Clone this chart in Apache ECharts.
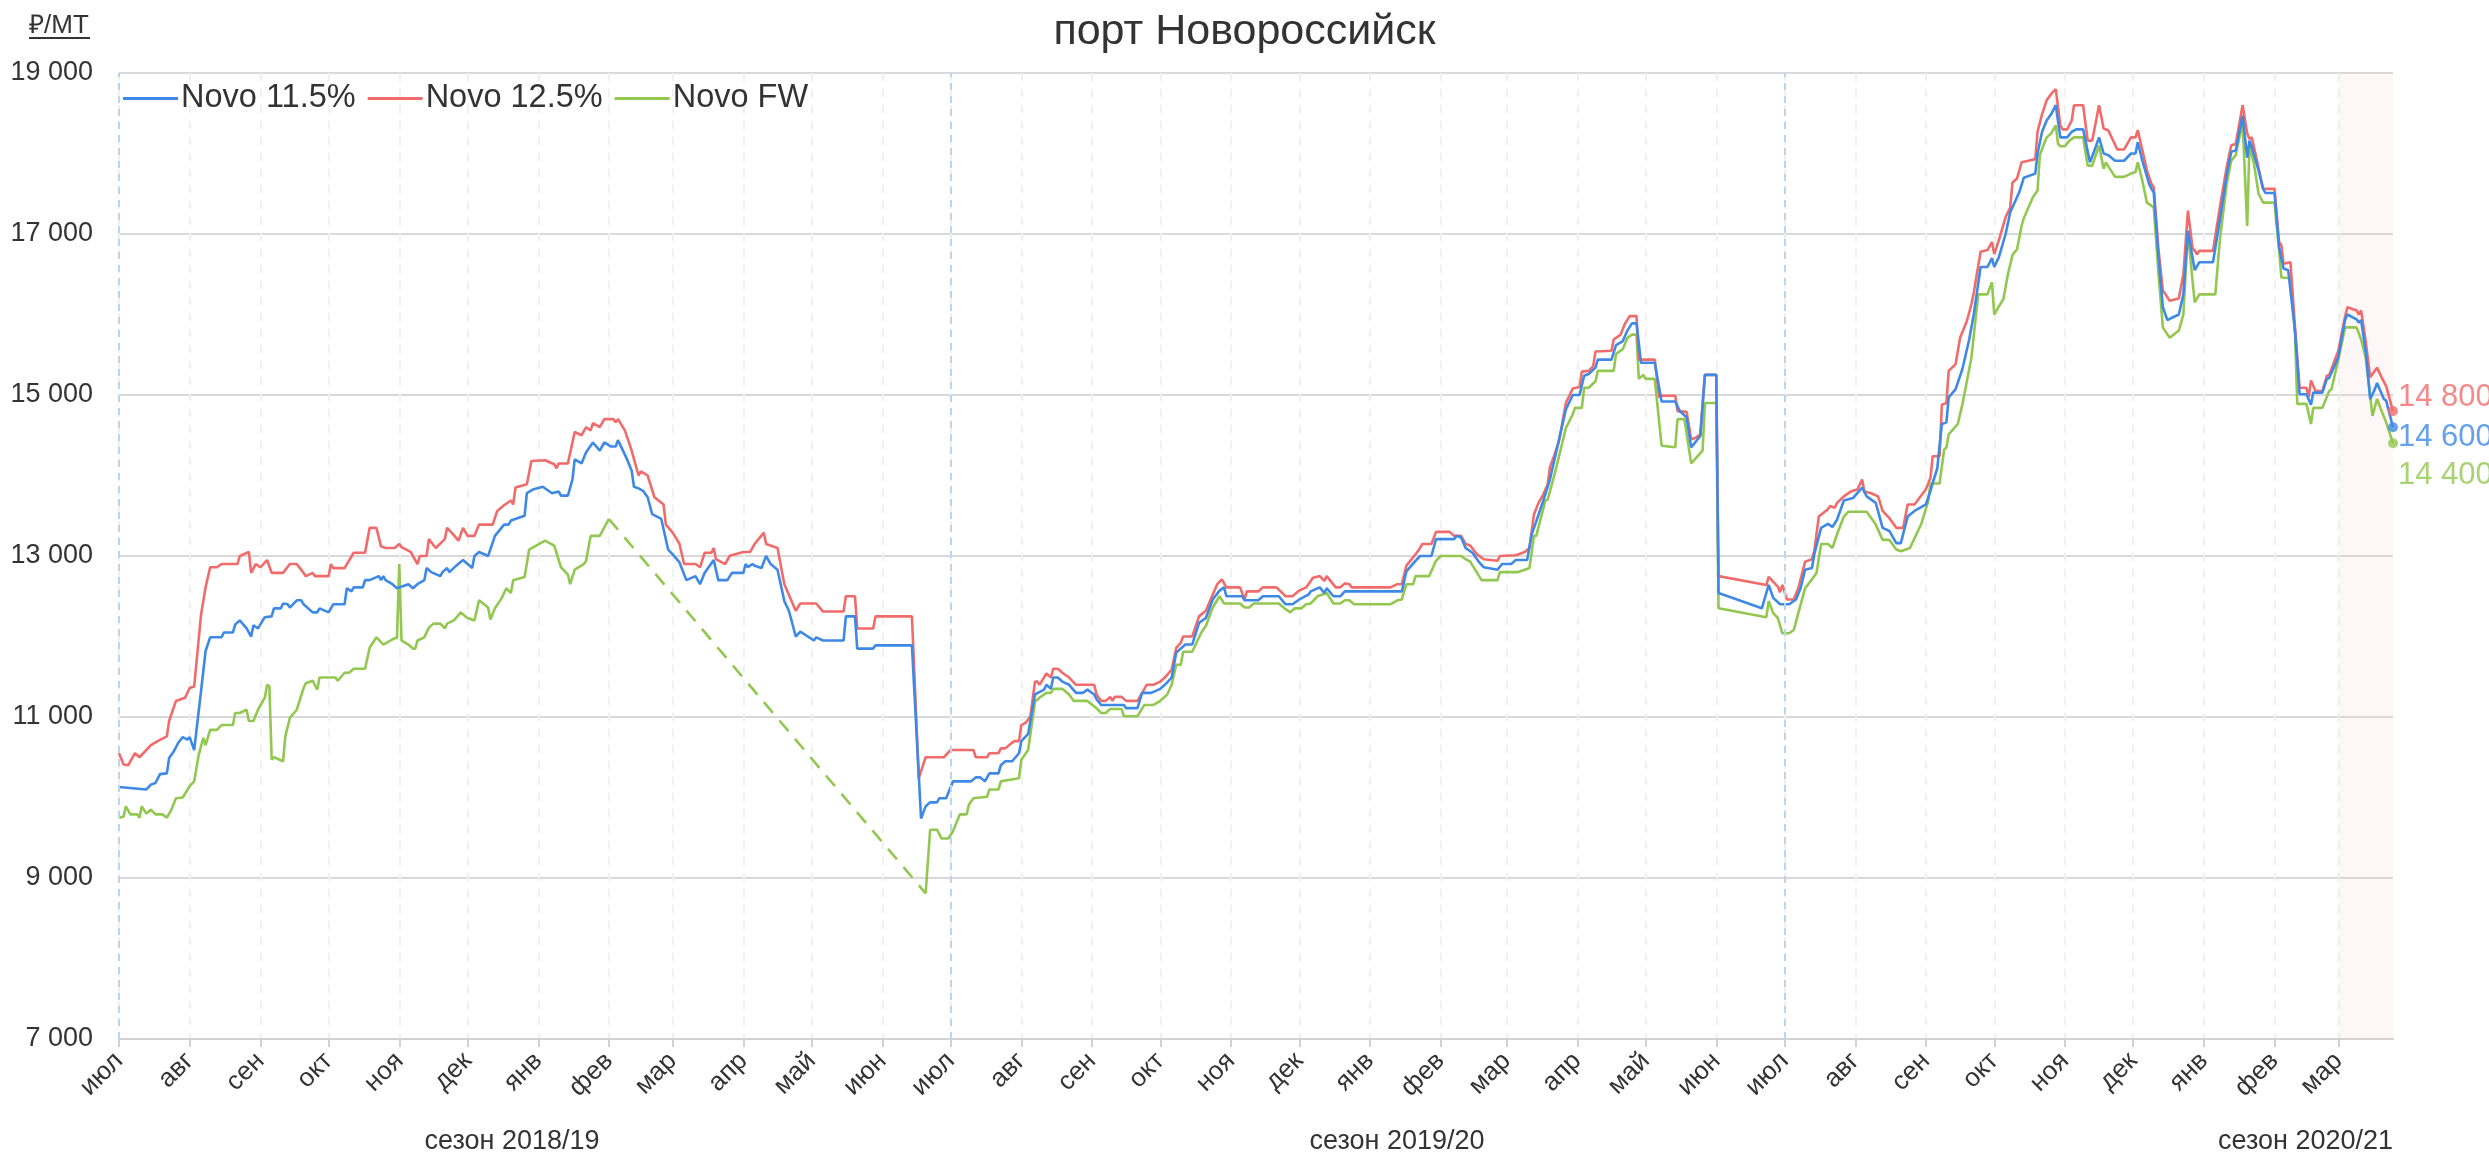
<!DOCTYPE html>
<html><head><meta charset="utf-8">
<script src="https://cdn.jsdelivr.net/npm/echarts@6/dist/echarts.min.js"></script>
<style>html,body{margin:0;padding:0;background:#fff}#c{width:2489px;height:1155px}</style>
</head><body><div id="c"></div>
<script>
const monthLabels = ['янв','фев','мар','апр','май','июн','июл','авг','сен','окт','ноя','дек'];
const seasonLabels = ['сезон 2018/19','сезон 2019/20','сезон 2020/21'];
const seasonStarts = ['2018-07-01','2019-07-01','2020-07-01'];
const highlightRange = ['2021-03-01','2021-03-25'];
const startDate = '2018-07-01', endDate = '2021-03-25';

const novo115 = [
['2018-07-01',10130],['2018-07-13',10100],['2018-07-15',10160],['2018-07-17',10180],['2018-07-19',10290],['2018-07-22',10300],['2018-07-23',10490],['2018-07-25',10570],['2018-07-27',10680],['2018-07-29',10750],['2018-07-31',10720],['2018-08-01',10750],['2018-08-03',10590],['2018-08-06',11320],['2018-08-08',11820],['2018-08-10',11990],['2018-08-15',11990],['2018-08-16',12050],['2018-08-20',12050],['2018-08-21',12150],['2018-08-23',12200],['2018-08-26',12100],['2018-08-28',12000],['2018-08-29',12140],['2018-08-31',12100],
['2018-09-03',12240],['2018-09-06',12250],['2018-09-07',12350],['2018-09-10',12350],['2018-09-11',12410],['2018-09-13',12400],['2018-09-14',12360],['2018-09-17',12450],['2018-09-19',12450],['2018-09-20',12400],['2018-09-24',12300],['2018-09-26',12300],['2018-09-27',12350],['2018-10-01',12300],['2018-10-03',12400],['2018-10-08',12400],['2018-10-09',12600],['2018-10-11',12560],['2018-10-12',12610],['2018-10-16',12610],['2018-10-17',12700],['2018-10-19',12700],['2018-10-23',12750],['2018-10-24',12700],['2018-10-25',12750],['2018-10-26',12700],['2018-10-29',12650],['2018-10-31',12600],
['2018-11-05',12650],['2018-11-07',12600],['2018-11-09',12650],['2018-11-12',12700],['2018-11-13',12850],['2018-11-15',12800],['2018-11-19',12750],['2018-11-20',12800],['2018-11-22',12850],['2018-11-23',12800],['2018-11-26',12880],['2018-11-29',12950],['2018-12-03',12850],['2018-12-04',13000],['2018-12-06',13050],['2018-12-10',13000],['2018-12-13',13250],['2018-12-17',13390],['2018-12-19',13390],['2018-12-20',13440],['2018-12-26',13500],['2018-12-27',13780],['2018-12-30',13830],
['2019-01-03',13860],['2019-01-07',13780],['2019-01-10',13800],['2019-01-11',13750],['2019-01-14',13750],['2019-01-16',13950],['2019-01-17',14200],['2019-01-20',14150],['2019-01-22',14290],['2019-01-25',14410],['2019-01-28',14310],['2019-01-30',14410],['2019-02-02',14360],['2019-02-04',14360],['2019-02-05',14440],['2019-02-09',14200],['2019-02-11',14060],['2019-02-12',13860],['2019-02-14',13840],['2019-02-16',13810],['2019-02-18',13730],['2019-02-20',13520],['2019-02-24',13460],['2019-02-27',13080],
['2019-03-01',13020],['2019-03-04',12920],['2019-03-07',12700],['2019-03-11',12750],['2019-03-13',12650],['2019-03-15',12790],['2019-03-19',12950],['2019-03-21',12700],['2019-03-25',12700],['2019-03-27',12790],['2019-04-01',12790],['2019-04-02',12900],['2019-04-03',12860],['2019-04-05',12900],['2019-04-06',12880],['2019-04-09',12850],['2019-04-11',13000],['2019-04-13',12900],['2019-04-16',12830],['2019-04-19',12440],['2019-04-21',12320],['2019-04-24',12000],['2019-04-26',12060],
['2019-05-02',11950],['2019-05-03',11990],['2019-05-06',11950],['2019-05-15',11950],['2019-05-16',12250],['2019-05-20',12250],['2019-05-21',11850],['2019-05-28',11850],['2019-05-29',11890],['2019-06-14',11890],['2019-06-18',9740],['2019-06-20',9890],['2019-06-22',9940],['2019-06-25',9940],['2019-06-26',9990],['2019-06-29',9990],
['2019-07-02',10200],['2019-07-10',10200],['2019-07-12',10250],['2019-07-14',10250],['2019-07-16',10200],['2019-07-18',10300],['2019-07-22',10300],['2019-07-23',10400],['2019-07-25',10450],['2019-07-28',10450],['2019-07-31',10550],['2019-08-01',10700],['2019-08-04',10790],['2019-08-07',11280],['2019-08-11',11340],['2019-08-12',11400],['2019-08-14',11350],['2019-08-15',11490],['2019-08-17',11490],['2019-08-19',11440],['2019-08-22',11400],['2019-08-25',11300],['2019-08-28',11300],['2019-08-30',11340],
['2019-09-02',11280],['2019-09-03',11220],['2019-09-05',11150],['2019-09-15',11150],['2019-09-16',11110],['2019-09-21',11110],['2019-09-23',11300],['2019-09-27',11300],['2019-10-01',11350],['2019-10-03',11400],['2019-10-06',11490],['2019-10-08',11800],['2019-10-12',11900],['2019-10-15',11900],['2019-10-18',12170],['2019-10-21',12230],['2019-10-24',12460],['2019-10-27',12570],['2019-10-29',12610],['2019-10-30',12500],
['2019-11-06',12500],['2019-11-07',12450],['2019-11-13',12450],['2019-11-15',12500],['2019-11-22',12500],['2019-11-25',12400],['2019-11-28',12400],['2019-12-01',12460],['2019-12-05',12520],['2019-12-06',12560],['2019-12-10',12610],['2019-12-12',12540],['2019-12-13',12600],['2019-12-16',12500],['2019-12-19',12500],['2019-12-21',12560],
['2020-01-15',12560],['2020-01-17',12810],['2020-01-21',12940],['2020-01-23',13000],['2020-01-28',13000],['2020-01-30',13210],['2020-02-07',13210],['2020-02-08',13250],['2020-02-10',13230],['2020-02-12',13100],['2020-02-15',13040],['2020-02-18',12920],['2020-02-20',12860],['2020-02-26',12830],['2020-02-28',12900],
['2020-03-03',12900],['2020-03-05',12950],['2020-03-10',12950],['2020-03-12',13270],['2020-03-14',13430],['2020-03-17',13680],['2020-03-20',13950],['2020-03-27',14820],['2020-03-30',15000],['2020-04-02',15000],['2020-04-04',15240],['2020-04-06',15260],['2020-04-09',15340],['2020-04-10',15440],['2020-04-16',15440],['2020-04-18',15620],['2020-04-21',15670],['2020-04-23',15800],['2020-04-25',15890],['2020-04-27',15890],['2020-04-29',15400],
['2020-05-05',15400],['2020-05-08',14920],['2020-05-14',14920],['2020-05-16',14800],['2020-05-19',14720],['2020-05-21',14350],['2020-05-25',14490],['2020-05-27',15250],['2020-06-01',15250],['2020-06-02',12540],['2020-06-21',12350],['2020-06-24',12640],['2020-06-26',12480],['2020-06-29',12400],
['2020-07-03',12400],['2020-07-06',12460],['2020-07-08',12600],['2020-07-10',12830],['2020-07-13',12850],['2020-07-14',13020],['2020-07-17',13350],['2020-07-20',13400],['2020-07-22',13360],['2020-07-24',13450],['2020-07-27',13690],['2020-07-31',13720],['2020-08-04',13850],['2020-08-06',13740],['2020-08-10',13660],['2020-08-13',13350],['2020-08-16',13310],['2020-08-19',13160],['2020-08-21',13160],['2020-08-24',13490],['2020-08-27',13560],
['2020-09-01',13640],['2020-09-03',13810],['2020-09-04',13910],['2020-09-06',14090],['2020-09-08',14640],['2020-09-10',14660],['2020-09-11',14970],['2020-09-14',15070],['2020-09-17',15320],['2020-09-20',15690],['2020-09-22',16000],['2020-09-25',16590],['2020-09-28',16590],['2020-09-30',16700],
['2020-10-01',16590],['2020-10-03',16710],['2020-10-06',17000],['2020-10-08',17270],['2020-10-12',17520],['2020-10-14',17700],['2020-10-19',17750],['2020-10-20',18000],['2020-10-22',18270],['2020-10-24',18410],['2020-10-26',18490],['2020-10-28',18600],['2020-10-30',18200],
['2020-11-02',18200],['2020-11-04',18270],['2020-11-06',18300],['2020-11-09',18300],['2020-11-12',17890],['2020-11-14',18040],['2020-11-16',18200],['2020-11-18',18000],['2020-11-20',17980],['2020-11-23',17910],['2020-11-27',17910],['2020-11-30',18000],
['2020-12-02',18000],['2020-12-03',18140],['2020-12-05',17910],['2020-12-08',17620],['2020-12-09',17560],['2020-12-10',17520],['2020-12-12',16750],['2020-12-14',16090],['2020-12-16',15930],['2020-12-18',15960],['2020-12-21',16000],['2020-12-23',16250],['2020-12-25',17040],['2020-12-27',16710],['2020-12-28',16550],['2020-12-30',16650],
['2021-01-05',16650],['2021-01-08',17170],['2021-01-11',17730],['2021-01-13',18020],['2021-01-15',18040],['2021-01-18',18470],['2021-01-20',17950],['2021-01-21',18160],['2021-01-22',18080],['2021-01-25',17790],['2021-01-27',17560],['2021-01-28',17510],
['2021-02-01',17510],['2021-02-03',16830],['2021-02-05',16570],['2021-02-07',16550],['2021-02-10',15800],['2021-02-12',15010],['2021-02-15',15010],['2021-02-17',14880],['2021-02-18',15030],['2021-02-22',15030],['2021-02-24',15200],['2021-02-25',15210],
['2021-03-01',15470],['2021-03-04',15940],['2021-03-05',16000],['2021-03-09',15940],['2021-03-10',15900],['2021-03-11',15930],['2021-03-13',15550],['2021-03-15',14950],['2021-03-17',15070],['2021-03-18',15150],['2021-03-21',14950],['2021-03-22',14930],['2021-03-25',14600]
];

const novo125 = [
['2018-07-01',10550],['2018-07-03',10410],['2018-07-05',10400],['2018-07-08',10550],['2018-07-10',10500],['2018-07-15',10650],['2018-07-18',10700],['2018-07-22',10760],['2018-07-23',10950],['2018-07-26',11200],['2018-07-30',11240],['2018-08-01',11360],['2018-08-03',11380],['2018-08-06',12270],['2018-08-08',12610],['2018-08-10',12860],['2018-08-13',12860],['2018-08-15',12900],['2018-08-22',12900],['2018-08-23',13000],['2018-08-27',13050],['2018-08-28',12790],['2018-08-30',12900],
['2018-09-01',12860],['2018-09-04',12950],['2018-09-06',12790],['2018-09-11',12790],['2018-09-14',12900],['2018-09-17',12900],['2018-09-20',12790],['2018-09-21',12750],['2018-09-24',12790],['2018-09-25',12750],['2018-10-01',12750],['2018-10-02',12900],['2018-10-03',12850],['2018-10-08',12850],['2018-10-12',13040],['2018-10-17',13040],['2018-10-19',13350],['2018-10-22',13350],['2018-10-24',13120],['2018-10-26',13100],['2018-10-30',13100],
['2018-11-01',13150],['2018-11-02',13110],['2018-11-06',13050],['2018-11-09',12900],['2018-11-10',13000],['2018-11-13',13000],['2018-11-14',13210],['2018-11-17',13100],['2018-11-21',13210],['2018-11-22',13350],['2018-11-24',13290],['2018-11-27',13190],['2018-11-29',13350],['2018-12-01',13250],['2018-12-04',13250],['2018-12-06',13390],['2018-12-12',13390],['2018-12-14',13560],['2018-12-17',13630],['2018-12-20',13690],['2018-12-21',13640],['2018-12-22',13850],['2018-12-27',13890],['2018-12-29',14180],
['2019-01-04',14190],['2019-01-08',14140],['2019-01-09',14090],['2019-01-10',14150],['2019-01-14',14150],['2019-01-17',14540],['2019-01-20',14500],['2019-01-22',14600],['2019-01-24',14560],['2019-01-25',14650],['2019-01-28',14600],['2019-01-30',14700],['2019-02-03',14700],['2019-02-04',14660],['2019-02-05',14700],['2019-02-08',14560],['2019-02-11',14310],['2019-02-14',14000],['2019-02-15',14050],['2019-02-18',14000],['2019-02-21',13730],['2019-02-25',13640],['2019-02-26',13390],
['2019-03-01',13290],['2019-03-04',13150],['2019-03-06',12900],['2019-03-11',12900],['2019-03-13',12860],['2019-03-15',13040],['2019-03-18',13040],['2019-03-19',13100],['2019-03-20',12960],['2019-03-24',12900],['2019-03-26',13000],['2019-03-28',13020],['2019-04-01',13050],['2019-04-04',13050],['2019-04-06',13150],['2019-04-10',13290],['2019-04-11',13150],['2019-04-16',13100],['2019-04-19',12650],['2019-04-24',12320],['2019-04-26',12410],
['2019-05-03',12410],['2019-05-06',12310],['2019-05-15',12310],['2019-05-16',12500],['2019-05-20',12500],['2019-05-21',12100],['2019-05-28',12100],['2019-05-29',12250],['2019-06-14',12250],['2019-06-17',10240],['2019-06-20',10500],['2019-06-28',10500],
['2019-07-01',10590],['2019-07-11',10590],['2019-07-12',10500],['2019-07-17',10500],['2019-07-18',10550],['2019-07-22',10550],['2019-07-23',10610],['2019-07-25',10610],['2019-07-27',10660],['2019-07-29',10700],['2019-07-31',10700],['2019-08-01',10900],['2019-08-03',10930],['2019-08-05',11010],['2019-08-07',11440],['2019-08-08',11440],['2019-08-09',11400],['2019-08-12',11540],['2019-08-14',11490],['2019-08-15',11600],['2019-08-17',11600],['2019-08-19',11550],['2019-08-22',11490],['2019-08-25',11400],
['2019-09-02',11400],['2019-09-03',11280],['2019-09-05',11200],['2019-09-07',11200],['2019-09-09',11250],['2019-09-10',11200],['2019-09-11',11250],['2019-09-14',11250],['2019-09-16',11200],['2019-09-21',11200],['2019-09-23',11300],['2019-09-25',11400],['2019-09-28',11400],['2019-10-01',11440],['2019-10-03',11490],['2019-10-06',11590],['2019-10-08',11860],['2019-10-10',11920],['2019-10-11',12000],['2019-10-15',12000],['2019-10-18',12250],['2019-10-21',12320],['2019-10-24',12520],['2019-10-26',12650],['2019-10-28',12710],['2019-10-30',12610],
['2019-11-05',12610],['2019-11-07',12460],['2019-11-08',12560],['2019-11-13',12560],['2019-11-15',12610],['2019-11-21',12610],['2019-11-25',12500],['2019-11-28',12500],['2019-12-01',12570],['2019-12-04',12610],['2019-12-07',12730],['2019-12-10',12750],['2019-12-12',12690],['2019-12-13',12750],['2019-12-17',12610],['2019-12-19',12610],['2019-12-21',12660],['2019-12-23',12650],['2019-12-24',12610],
['2020-01-10',12610],['2020-01-13',12650],['2020-01-15',12650],['2020-01-17',12880],['2020-01-21',13020],['2020-01-23',13100],['2020-01-24',13150],['2020-01-28',13150],['2020-01-30',13300],['2020-02-05',13300],['2020-02-07',13250],['2020-02-10',13250],['2020-02-12',13150],['2020-02-14',13130],['2020-02-17',13020],['2020-02-20',12960],['2020-02-26',12940],['2020-02-27',13000],
['2020-03-05',13010],['2020-03-09',13050],['2020-03-11',13100],['2020-03-13',13520],['2020-03-15',13660],['2020-03-17',13760],['2020-03-19',13890],['2020-03-20',14100],['2020-03-22',14260],['2020-03-24',14430],['2020-03-27',14900],['2020-03-30',15080],['2020-04-02',15100],['2020-04-03',15290],['2020-04-06',15300],['2020-04-08',15360],['2020-04-09',15540],['2020-04-16',15550],['2020-04-17',15690],['2020-04-20',15750],['2020-04-22',15890],['2020-04-24',15980],['2020-04-27',15980],['2020-04-28',15440],
['2020-05-05',15440],['2020-05-07',14970],['2020-05-08',14990],['2020-05-14',14990],['2020-05-15',14800],['2020-05-19',14790],['2020-05-21',14450],['2020-05-23',14470],['2020-05-25',14510],['2020-05-27',15250],['2020-06-01',15250],['2020-06-02',12750],['2020-06-23',12640],['2020-06-24',12740],['2020-06-28',12620],['2020-06-29',12550],['2020-06-30',12640],
['2020-07-02',12460],['2020-07-05',12460],['2020-07-07',12600],['2020-07-10',12930],['2020-07-13',12960],['2020-07-14',13060],['2020-07-16',13490],['2020-07-20',13580],['2020-07-21',13620],['2020-07-23',13600],['2020-07-24',13660],['2020-07-27',13740],['2020-07-30',13800],['2020-08-02',13830],['2020-08-04',13950],['2020-08-05',13800],['2020-08-08',13780],['2020-08-11',13740],['2020-08-13',13560],['2020-08-16',13470],['2020-08-19',13350],['2020-08-22',13350],['2020-08-24',13640],['2020-08-27',13640],
['2020-09-01',13830],['2020-09-03',13970],['2020-09-04',14240],['2020-09-07',14240],['2020-09-08',14880],['2020-09-10',14900],['2020-09-11',15300],['2020-09-14',15380],['2020-09-16',15710],['2020-09-19',15920],['2020-09-21',16130],['2020-09-22',16270],['2020-09-25',16780],['2020-09-28',16800],['2020-09-30',16900],
['2020-10-01',16750],['2020-10-03',16920],['2020-10-06',17210],['2020-10-08',17330],['2020-10-09',17640],['2020-10-11',17690],['2020-10-13',17890],['2020-10-16',17910],['2020-10-19',17930],['2020-10-20',18270],['2020-10-22',18490],['2020-10-24',18660],['2020-10-26',18740],['2020-10-28',18800],['2020-10-30',18350],['2020-10-31',18300],
['2020-11-02',18300],['2020-11-04',18410],['2020-11-05',18600],['2020-11-09',18600],['2020-11-11',18160],['2020-11-13',18160],['2020-11-16',18600],['2020-11-18',18310],['2020-11-20',18290],['2020-11-24',18050],['2020-11-27',18050],['2020-11-30',18200],
['2020-12-02',18200],['2020-12-03',18290],['2020-12-05',18040],['2020-12-07',17790],['2020-12-09',17620],['2020-12-10',17580],['2020-12-12',16830],['2020-12-14',16300],['2020-12-17',16170],['2020-12-21',16200],['2020-12-23',16500],['2020-12-25',17290],['2020-12-27',16830],['2020-12-29',16750],['2020-12-30',16790],
['2021-01-05',16790],['2021-01-08',17330],['2021-01-11',17830],['2021-01-13',18100],['2021-01-15',18120],['2021-01-18',18600],['2021-01-20',18250],['2021-01-21',18180],['2021-01-22',18200],['2021-01-24',17950],['2021-01-26',17690],['2021-01-27',17560],
['2021-02-01',17560],['2021-02-03',16900],['2021-02-04',16860],['2021-02-05',16630],['2021-02-08',16650],['2021-02-10',15840],['2021-02-12',15090],['2021-02-15',15090],['2021-02-16',14970],['2021-02-17',15180],['2021-02-19',15050],['2021-02-22',15050],['2021-02-24',15240],['2021-02-25',15250],
['2021-03-01',15550],['2021-03-04',15980],['2021-03-05',16090],['2021-03-09',16050],['2021-03-10',16000],['2021-03-11',16050],['2021-03-13',15670],['2021-03-15',15220],['2021-03-16',15260],['2021-03-18',15340],['2021-03-20',15220],['2021-03-22',15110],['2021-03-25',14800]
];

const novoFW = [
['2018-07-01',9750],['2018-07-03',9760],['2018-07-04',9890],['2018-07-06',9790],['2018-07-09',9790],['2018-07-10',9750],['2018-07-11',9890],['2018-07-13',9800],['2018-07-15',9850],['2018-07-17',9790],['2018-07-20',9790],['2018-07-22',9750],['2018-07-24',9850],['2018-07-26',9990],['2018-07-29',10000],['2018-08-01',10140],['2018-08-03',10200],['2018-08-05',10530],['2018-08-07',10740],['2018-08-08',10650],['2018-08-10',10840],['2018-08-13',10840],['2018-08-15',10900],['2018-08-20',10900],['2018-08-21',11050],['2018-08-23',11050],['2018-08-26',11090],['2018-08-27',10950],['2018-08-29',10950],['2018-08-31',11090],
['2018-09-03',11240],['2018-09-04',11400],['2018-09-05',11380],['2018-09-06',10470],['2018-09-07',10500],['2018-09-11',10450],['2018-09-12',10760],['2018-09-14',10990],['2018-09-17',11090],['2018-09-20',11360],['2018-09-21',11420],['2018-09-24',11450],['2018-09-26',11340],['2018-09-27',11490],['2018-10-04',11490],['2018-10-05',11450],['2018-10-08',11550],['2018-10-10',11550],['2018-10-12',11600],['2018-10-17',11600],['2018-10-19',11860],['2018-10-22',11990],['2018-10-25',11900],['2018-10-30',11980],['2018-10-31',11980],
['2018-11-01',12900],['2018-11-02',11950],['2018-11-05',11900],['2018-11-07',11850],['2018-11-08',11850],['2018-11-09',11950],['2018-11-12',11990],['2018-11-14',12110],['2018-11-16',12160],['2018-11-19',12160],['2018-11-21',12100],['2018-11-22',12160],['2018-11-25',12200],['2018-11-28',12300],['2018-11-30',12250],['2018-12-01',12230],['2018-12-04',12200],['2018-12-06',12450],['2018-12-10',12360],['2018-12-11',12210],['2018-12-13',12350],['2018-12-16',12480],['2018-12-18',12600],['2018-12-20',12540],['2018-12-21',12700],['2018-12-26',12740],['2018-12-28',13080],
['2019-01-04',13190],['2019-01-08',13130],['2019-01-11',12860],['2019-01-14',12770],['2019-01-15',12650],['2019-01-17',12830],['2019-01-21',12900],['2019-01-22',12940],['2019-01-24',13250],['2019-01-28',13250],['2019-02-01',13460],
['2019-06-20',8810],['2019-06-22',9600],['2019-06-25',9600],['2019-06-27',9490],['2019-06-30',9490],['2019-07-02',9580],['2019-07-05',9790],['2019-07-08',9790],['2019-07-09',9910],['2019-07-11',9990],['2019-07-17',10010],['2019-07-18',10100],['2019-07-22',10100],['2019-07-23',10200],['2019-07-27',10220],['2019-07-31',10240],['2019-08-01',10470],['2019-08-04',10590],['2019-08-07',11190],['2019-08-09',11240],['2019-08-12',11300],['2019-08-14',11300],['2019-08-15',11350],['2019-08-19',11350],['2019-08-22',11280],['2019-08-24',11200],['2019-08-30',11200],
['2019-09-03',11110],['2019-09-05',11050],['2019-09-07',11050],['2019-09-09',11100],['2019-09-14',11100],['2019-09-15',11010],['2019-09-21',11010],['2019-09-24',11150],['2019-09-28',11150],['2019-10-01',11200],['2019-10-04',11280],['2019-10-06',11400],['2019-10-08',11650],['2019-10-10',11650],['2019-10-11',11810],['2019-10-15',11810],['2019-10-19',12050],['2019-10-21',12130],['2019-10-24',12360],['2019-10-27',12500],['2019-10-29',12410],
['2019-11-05',12410],['2019-11-07',12360],['2019-11-09',12360],['2019-11-11',12410],['2019-11-22',12410],['2019-11-25',12340],['2019-11-27',12300],['2019-11-29',12350],['2019-12-02',12350],['2019-12-04',12400],['2019-12-06',12410],['2019-12-09',12500],['2019-12-13',12540],['2019-12-16',12410],['2019-12-19',12410],['2019-12-21',12450],['2019-12-23',12450],['2019-12-25',12400],
['2020-01-10',12400],['2020-01-13',12450],['2020-01-15',12460],['2020-01-17',12650],['2020-01-20',12650],['2020-01-21',12750],['2020-01-27',12750],['2020-01-30',12940],['2020-02-01',13000],['2020-02-10',13000],['2020-02-12',12960],['2020-02-14',12930],['2020-02-19',12700],['2020-02-26',12700],['2020-02-27',12800],
['2020-03-06',12800],['2020-03-09',12830],['2020-03-11',12850],['2020-03-13',13250],['2020-03-14',13250],['2020-03-16',13470],['2020-03-18',13690],['2020-03-19',13700],['2020-03-22',14010],['2020-03-27',14590],['2020-03-30',14760],['2020-03-31',14840],['2020-04-03',14840],['2020-04-04',15090],['2020-04-06',15090],['2020-04-09',15170],['2020-04-10',15300],['2020-04-17',15300],['2020-04-18',15510],['2020-04-21',15570],['2020-04-23',15710],['2020-04-25',15750],['2020-04-27',15750],['2020-04-28',15200],['2020-04-30',15250],
['2020-05-01',15200],['2020-05-05',15200],['2020-05-08',14370],['2020-05-14',14350],['2020-05-15',14700],['2020-05-18',14700],['2020-05-21',14150],['2020-05-26',14310],['2020-05-27',14900],['2020-06-01',14900],['2020-06-02',12350],['2020-06-23',12240],['2020-06-24',12440],['2020-06-26',12290],['2020-06-28',12230],['2020-06-30',12040],
['2020-07-03',12040],['2020-07-05',12080],['2020-07-07',12290],['2020-07-10',12600],['2020-07-13',12710],['2020-07-15',12790],['2020-07-17',13150],['2020-07-20',13150],['2020-07-22',13100],['2020-07-24',13270],['2020-07-27',13490],['2020-07-29',13550],['2020-08-06',13550],['2020-08-10',13390],['2020-08-13',13200],['2020-08-16',13200],['2020-08-19',13080],['2020-08-21',13060],['2020-08-25',13100],['2020-08-30',13400],
['2020-09-02',13680],['2020-09-03',13900],['2020-09-07',13900],['2020-09-09',14320],['2020-09-10',14350],['2020-09-11',14510],['2020-09-15',14640],['2020-09-17',14880],['2020-09-21',15470],['2020-09-23',16000],['2020-09-24',16250],['2020-09-28',16250],['2020-09-30',16400],
['2020-10-01',16000],['2020-10-03',16100],['2020-10-05',16190],['2020-10-07',16500],['2020-10-09',16740],['2020-10-11',16810],['2020-10-13',17100],['2020-10-14',17200],['2020-10-16',17330],['2020-10-18',17460],['2020-10-20',17540],['2020-10-21',17980],['2020-10-23',18130],['2020-10-24',18200],['2020-10-26',18250],['2020-10-28',18350],['2020-10-29',18120],['2020-10-30',18090],
['2020-11-01',18090],['2020-11-03',18160],['2020-11-05',18200],['2020-11-09',18200],['2020-11-11',17850],['2020-11-13',17850],['2020-11-16',18100],['2020-11-18',17810],['2020-11-19',17890],['2020-11-23',17710],['2020-11-27',17710],['2020-11-30',17750],
['2020-12-02',17770],['2020-12-03',17890],['2020-12-05',17660],['2020-12-07',17390],['2020-12-10',17330],['2020-12-12',16540],['2020-12-14',15840],['2020-12-17',15710],['2020-12-21',15800],['2020-12-23',16000],['2020-12-25',17040],['2020-12-27',16420],['2020-12-28',16150],['2020-12-30',16250],
['2021-01-06',16250],['2021-01-08',16920],['2021-01-11',17620],['2021-01-13',17910],['2021-01-15',17980],['2021-01-18',18390],['2021-01-20',17100],['2021-01-21',18100],['2021-01-23',17870],['2021-01-25',17500],['2021-01-27',17390],
['2021-02-01',17390],['2021-02-03',16810],['2021-02-04',16460],['2021-02-08',16450],['2021-02-10',15760],['2021-02-11',14890],['2021-02-15',14890],['2021-02-17',14640],['2021-02-18',14840],['2021-02-22',14840],['2021-02-25',15050],['2021-02-26',15070],
['2021-03-01',15440],['2021-03-04',15840],['2021-03-09',15840],['2021-03-11',15690],['2021-03-13',15470],['2021-03-16',14740],['2021-03-18',14950],['2021-03-20',14800],['2021-03-22',14660],['2021-03-25',14400]
];

const COLORS = {blue:'#3e89e6', red:'#f26b6b', green:'#92c750'};
const FONT = '"Liberation Sans", Arial, Helvetica, sans-serif';

const days = [];
(function(){
  const pad = n => (n < 10 ? '0' : '') + n;
  let t = Date.UTC(+startDate.slice(0,4), +startDate.slice(5,7)-1, +startDate.slice(8,10));
  const end = Date.UTC(+endDate.slice(0,4), +endDate.slice(5,7)-1, +endDate.slice(8,10));
  while (t <= end) { const d = new Date(t); days.push(d.getUTCFullYear()+'-'+pad(d.getUTCMonth()+1)+'-'+pad(d.getUTCDate())); t += 86400000; }
})();
const isMonthStart = (i, v) => v.slice(8) === '01';
const fmt = v => String(v).replace(/\B(?=(\d{3})+(?!\d))/g, ' ');

function withGap(arr){
  const out = [], gap = [];
  for (let i = 0; i < arr.length; i++) {
    if (i > 0) {
      const dt = (Date.parse(arr[i][0]) - Date.parse(arr[i-1][0])) / 86400000;
      if (dt > 60) { out.push([days[days.indexOf(arr[i-1][0])+1], '-']); gap.push(arr[i-1], arr[i]); }
    }
    out.push(arr[i]);
  }
  return {out, gap};
}
const fw = withGap(novoFW);
const last = a => a[a.length-1];

const lineBase = {type:'line', showSymbol:false, symbol:'none', animation:false, z:3};
function endPoint(name, arr, color, dy){
  return {type:'scatter', name: name+' end', data:[last(arr)], symbolSize:10, clip:false, z:5,
    itemStyle:{color}, animation:false,
    label:{show:true, position:'right', distance:0, offset:[0,dy], color, fontSize:31, fontFamily:FONT,
      formatter: p => fmt(p.value[1])}};
}

const chart = echarts.init(document.getElementById('c'));
chart.setOption({
  animation:false,
  backgroundColor:'#ffffff',
  textStyle:{fontFamily:FONT},
  title:{text:'порт Новороссийск', left:'center', top:6, textStyle:{fontSize:43, fontWeight:'normal', color:'#333', fontFamily:FONT}},
  legend:{data:['Novo 11.5%','Novo 12.5%','Novo FW'], icon:'rect', left:123, top:82, padding:0, itemWidth:55, itemHeight:3, itemGap:12,
    textStyle:{fontSize:32.5, color:'#333', fontFamily:FONT, padding:[0,0,0,-2]}},
  grid:{left:119, right:96, top:73, bottom:116, containLabel:false},
  xAxis:{type:'category', data:days, boundaryGap:false,
    axisLine:{lineStyle:{color:'#d2d2d2', width:2}},
    axisTick:{interval:isMonthStart, length:8, lineStyle:{color:'#d2d2d2', width:2}},
    axisLabel:{interval:isMonthStart, rotate:45, margin:18, fontSize:26, color:'#333', fontFamily:FONT,
      formatter: v => monthLabels[+v.slice(5,7)-1]},
    splitLine:{show:true, interval:isMonthStart, lineStyle:{color:'#f0f0f0', width:2, type:[8,8]}}
  },
  yAxis:{type:'value', min:7000, max:19000, interval:2000,
    axisLine:{show:false}, axisTick:{show:false},
    axisLabel:{fontSize:27, color:'#333', margin:26, fontFamily:FONT, formatter: fmt},
    splitLine:{lineStyle:{color:'#d9d9d9', width:2}}
  },
  graphic:[
    {type:'text', left:29, top:13, style:{text:'₽/MT', fill:'#333', font:'26px '+FONT}},
    {type:'line', shape:{x1:29, y1:38, x2:90, y2:38}, style:{stroke:'#333', lineWidth:2}},
    {type:'text', x:512, y:1142, style:{text:seasonLabels[0], fill:'#333', font:'27px '+FONT, textAlign:'center', textVerticalAlign:'middle'}},
    {type:'text', x:1397, y:1142, style:{text:seasonLabels[1], fill:'#333', font:'27px '+FONT, textAlign:'center', textVerticalAlign:'middle'}},
    {type:'text', x:2393, y:1142, style:{text:seasonLabels[2], fill:'#333', font:'27px '+FONT, textAlign:'right', textVerticalAlign:'middle'}}
  ],
  series:[
    {type:'line', name:'helper', data:[], silent:true, z:1,
      markArea:{silent:true, itemStyle:{color:'rgba(248,200,206,0.14)'}, data:[[{xAxis:highlightRange[0]},{xAxis:highlightRange[1]}]]},
      markLine:{silent:true, symbol:'none', label:{show:false}, lineStyle:{color:'#b9d5f4', width:2, type:[7,6]},
        data: seasonStarts.map(d => ({xAxis:d}))}
    },
    Object.assign({}, lineBase, {name:'Novo FW', data:fw.out, color:COLORS.green, lineStyle:{width:2.6, color:COLORS.green}, itemStyle:{color:COLORS.green}}),
    Object.assign({}, lineBase, {name:'Novo FW gap', data:fw.gap, color:COLORS.green, lineStyle:{width:2.6, color:COLORS.green, type:[14,10]}}),
    Object.assign({}, lineBase, {name:'Novo 12.5%', data:novo125, color:COLORS.red, lineStyle:{width:2.6, color:COLORS.red}, itemStyle:{color:COLORS.red}}),
    Object.assign({}, lineBase, {name:'Novo 11.5%', data:novo115, color:COLORS.blue, lineStyle:{width:2.6, color:COLORS.blue}, itemStyle:{color:COLORS.blue}}),
    endPoint('Novo 12.5%', novo125, COLORS.red, -14),
    endPoint('Novo 11.5%', novo115, COLORS.blue, 10),
    endPoint('Novo FW', novoFW, COLORS.green, 32)
  ]
});
</script></body></html>
